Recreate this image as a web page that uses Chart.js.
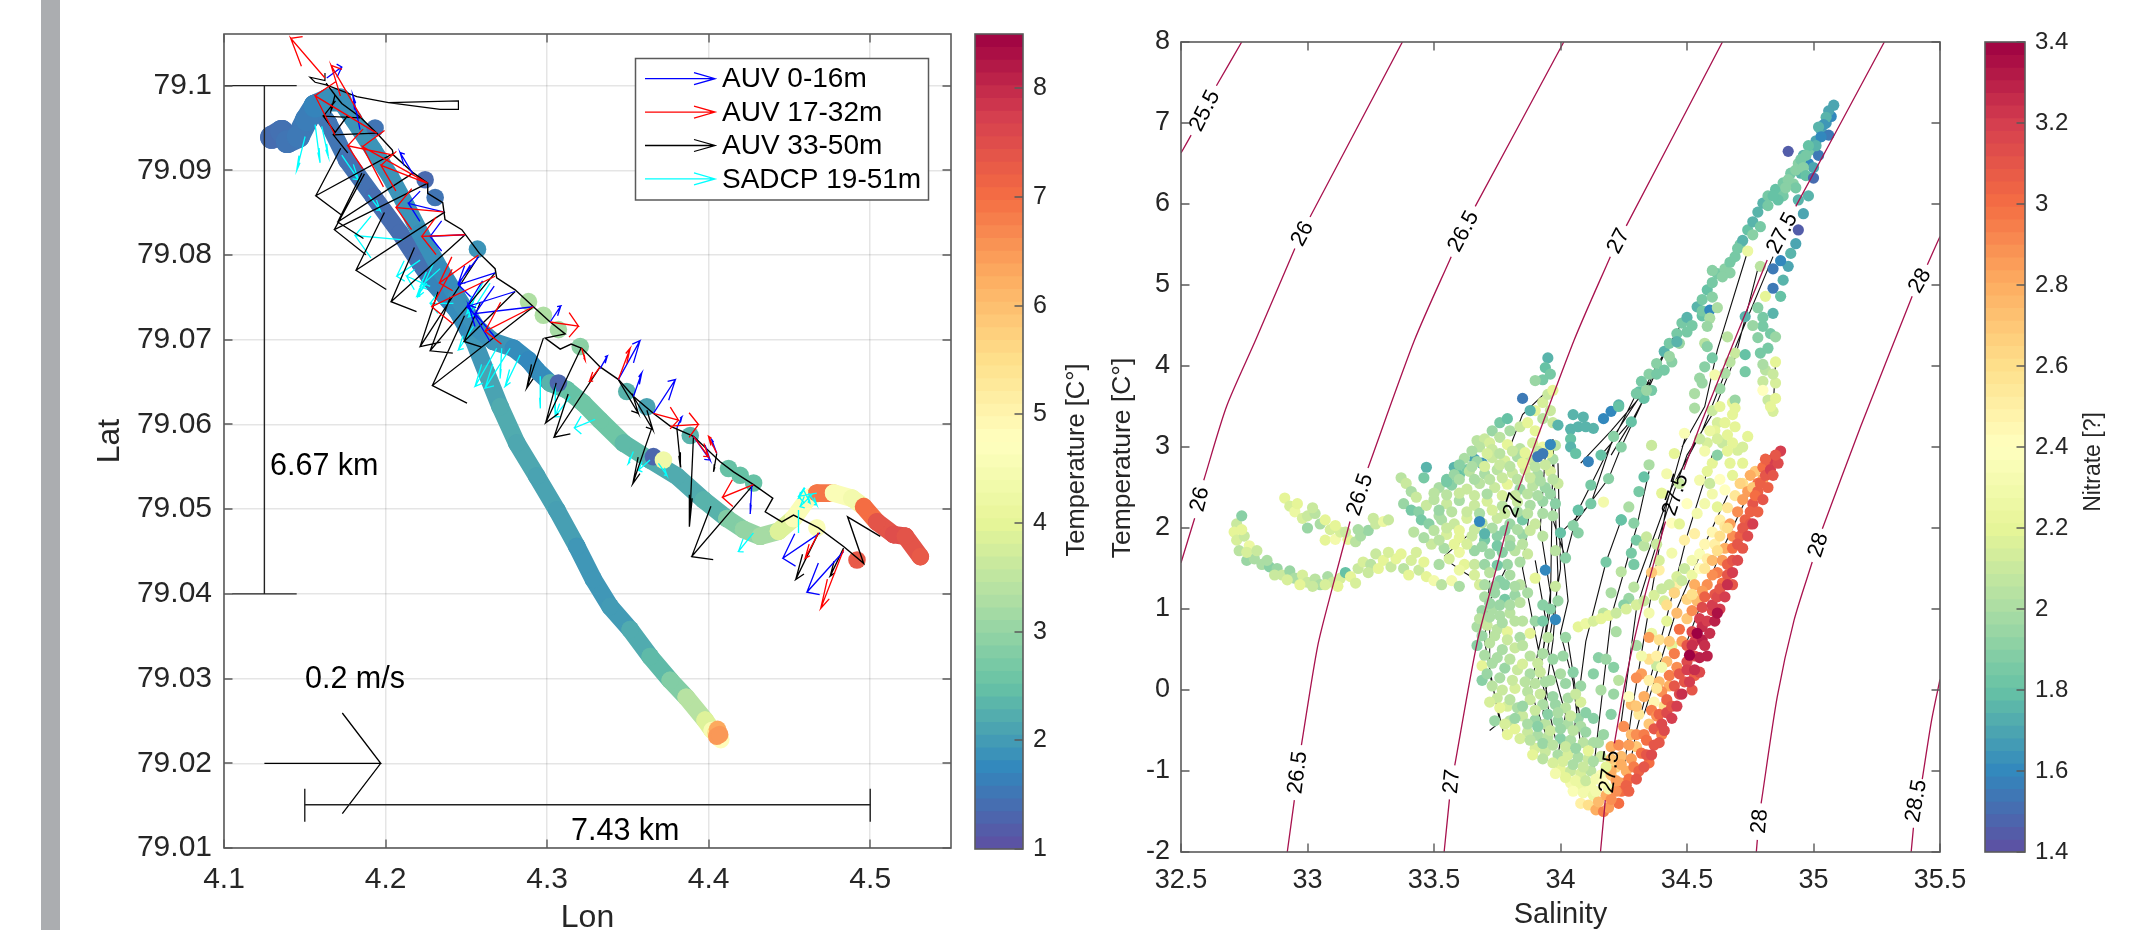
<!DOCTYPE html>
<html><head><meta charset="utf-8">
<script src="https://cdn.jsdelivr.net/npm/chart.js@4"></script>
<style>
html,body{margin:0;padding:0;background:#fff;width:2130px;height:930px;overflow:hidden}
canvas{position:absolute;left:0;top:0}
#strip{position:absolute;left:41px;top:0;width:19px;height:930px;background:#abadb0}
</style></head><body>
<div id="strip"></div>
<canvas id="c1" width="2130" height="1000"></canvas>
<canvas id="c2" width="2130" height="1000"></canvas>
<canvas id="c3" width="2130" height="1000"></canvas>
<canvas id="c4" width="2130" height="1000"></canvas>
<script>
// ---------- tick labels ----------
const lonTicks=[4.1,4.2,4.3,4.4,4.5], lonLabels=['4.1','4.2','4.3','4.4','4.5'];
const latTicks=[79.01,79.02,79.03,79.04,79.05,79.06,79.07,79.08,79.09,79.1];
const latLabels=['79.01','79.02','79.03','79.04','79.05','79.06','79.07','79.08','79.09','79.1'];
const tempBarTicks=[1,2,3,4,5,6,7,8];
const salTicks=[32.5,33,33.5,34,34.5,35,35.5], salLabels=['32.5','33','33.5','34','34.5','35','35.5'];
const thetaTicks=[-2,-1,0,1,2,3,4,5,6,7,8];
const nitrateTicks=[1.4,1.6,1.8,2,2.2,2.4,2.6,2.8,3,3.2,3.4];
const nitrateLabels=['1.4','1.6','1.8','2','2.2','2.4','2.6','2.8','3','3.2','3.4'];
const legendLabels=['AUV 0-16m','AUV 17-32m','AUV 33-50m','SADCP 19-51m'];

// ---------- left panel: ship track [lon,lat,temperature] ----------
const trackSouth=[[4.1574,79.0975,1.6],[4.1646,79.0956,1.5],[4.1760,79.0912,1.45],[4.1925,79.0869,1.4],[4.2090,79.0826,1.4],[4.2214,79.0790,1.45],[4.2296,79.0767,1.7],[4.2441,79.0735,1.8],[4.2544,79.0700,1.95],[4.2627,79.0660,2.1],[4.2709,79.0621,2.2],[4.2812,79.0578,2.15],[4.2936,79.0539,2.1],[4.3060,79.0499,2.05],[4.3184,79.0456,1.95],[4.3287,79.0417,1.95],[4.3390,79.0385,2.0],[4.3514,79.0358,2.2],[4.3638,79.0326,2.4],[4.3762,79.0298,2.8],[4.3861,79.0278,3.4],[4.3978,79.0251,3.9],[4.4022,79.0239,4.5],[4.4045,79.0236,5.5]];
const trackStart=[[4.1295,79.0939,1.4],[4.1357,79.0946,1.45],[4.1392,79.0934,1.5],[4.1460,79.0940,1.55],[4.1512,79.0960,1.6],[4.1564,79.0976,1.7],[4.1646,79.0983,1.85],[4.1718,79.0983,1.85]];
const trackEast=[[4.1718,79.0983,1.85],[4.1801,79.0960,1.9],[4.1925,79.0924,1.9],[4.2028,79.0893,1.9],[4.2131,79.0857,1.9],[4.2214,79.0826,1.85],[4.2338,79.0783,1.8],[4.2441,79.0751,1.85],[4.2565,79.0714,1.85],[4.2668,79.0698,1.9],[4.2792,79.0690,1.8],[4.2885,79.0676,1.75],[4.2936,79.0664,1.8],[4.3019,79.0649,2.3],[4.3122,79.0641,2.5],[4.3225,79.0625,2.6],[4.3328,79.0605,2.6],[4.3473,79.0578,2.4],[4.3638,79.0558,2.2],[4.3803,79.0539,2.2],[4.3968,79.0511,2.3],[4.4113,79.0489,2.8],[4.4216,79.0476,3.0],[4.4319,79.0468,3.2],[4.4432,79.0474,3.9],[4.4525,79.0489,4.6],[4.4608,79.0511,4.9],[4.4670,79.0519,6.9],[4.4773,79.0519,4.6],[4.4887,79.0513,4.4],[4.4959,79.0503,7.0],[4.5041,79.0485,7.4],[4.5145,79.0470,7.5],[4.5217,79.0468,7.4],[4.5310,79.0444,7.3]];
const trackBlobs=[[4.1935,79.0950,1.5],[4.2245,79.0889,1.35],[4.2307,79.0868,1.5],[4.2569,79.0807,1.9],[4.2885,79.0745,3.3],[4.2977,79.0729,3.3],[4.3070,79.0712,3.2],[4.3205,79.0692,2.9],[4.3070,79.0649,1.3],[4.3493,79.0639,2.3],[4.3617,79.0621,2.1],[4.3886,79.0587,2.3],[4.4123,79.0548,2.5],[4.4195,79.0540,2.5],[4.4278,79.0531,2.5],[4.4670,79.0478,4.6],[4.4918,79.0440,7.3],[4.3658,79.0562,1.3],[4.3720,79.0558,4.3],[4.4075,79.0228,4.8],[4.4055,79.0240,6.3],[4.4050,79.0232,6.5],[4.4068,79.0234,6.5]];
const auvPath=[[4.1632,79.1003],[4.1687,79.0989],[4.1729,79.0979],[4.1842,79.0963],[4.1945,79.0944],[4.2042,79.0924],[4.2049,79.0918],[4.2172,79.0897],[4.2261,79.0885],[4.2261,79.0873],[4.2354,79.0862],[4.2368,79.0842],[4.2472,79.0830],[4.2581,79.0802],[4.2678,79.0784],[4.2688,79.0773],[4.2802,79.0759],[4.2915,79.0739],[4.3019,79.0721],[4.3112,79.0707],[4.2988,79.0702],[4.3081,79.0689],[4.3149,79.0695],[4.3215,79.0690],[4.3328,79.0668],[4.3442,79.0653],[4.3535,79.0633],[4.3659,79.0613],[4.3762,79.0598],[4.3906,79.0586],[4.4071,79.0556],[4.4154,79.0544],[4.4278,79.0529],[4.4397,79.0513],[4.4350,79.0497],[4.4453,79.0485],[4.4525,79.0493],[4.4680,79.0478],[4.4835,79.0456],[4.4959,79.0436],[4.4860,79.0491],[4.5062,79.0468]];
const auvLoop=[[4.1625,79.1015],[4.1625,79.1006],[4.1532,79.1010],[4.1564,79.1004],[4.1632,79.1001],[4.1822,79.0987],[4.2018,79.0980],[4.2338,79.0972],[4.2451,79.0972],[4.2451,79.0982],[4.2018,79.0980]];
// current arrows [tailLon,tailLat,headLon,headLat]
const arrowsDeep=[[4.2049,79.0920,4.1568,79.0870],[4.2261,79.0885,4.1683,79.0830],[4.2172,79.0897,4.1704,79.0839],[4.2368,79.0851,4.1817,79.0782],[4.2492,79.0824,4.2034,79.0745],[4.2575,79.0798,4.2214,79.0692],[4.2678,79.0779,4.2276,79.0687],[4.2915,79.0739,4.2290,79.0646],[4.2802,79.0757,4.2486,79.0698],[4.2977,79.0702,4.2874,79.0643],[4.1945,79.0944,4.1677,79.0942],[4.1842,79.0962,4.1615,79.0964],[4.1687,79.0989,4.1663,79.0971],[4.3210,79.0690,4.2991,79.0602],[4.3328,79.0668,4.3043,79.0585],[4.3648,79.0596,4.3530,79.0530],[4.3441,79.0653,4.3565,79.0613],[4.3534,79.0633,4.3654,79.0594],[4.3803,79.0596,4.3827,79.0550],[4.3906,79.0586,4.3881,79.0480],[4.4050,79.0566,4.4030,79.0544],[4.4277,79.0529,4.3895,79.0444],[4.4680,79.0472,4.4539,79.0417],[4.4835,79.0454,4.4752,79.0421]];
const arrowsMid=[[4.1625,79.1009,4.1413,79.1056],[4.1945,79.0944,4.1564,79.0988],[4.1852,79.0962,4.1663,79.1024],[4.2049,79.0918,4.1766,79.0929],[4.2261,79.0885,4.1857,79.0928],[4.2255,79.0885,4.1972,79.0906],[4.2358,79.0851,4.2065,79.0856],[4.2492,79.0824,4.2224,79.0822],[4.2575,79.0800,4.2333,79.0767],[4.2678,79.0775,4.2286,79.0739],[4.2915,79.0739,4.2616,79.0710],[4.3019,79.0721,4.3194,79.0716],[4.3214,79.0690,4.3235,79.0676],[4.3328,79.0668,4.3262,79.0651],[4.3441,79.0653,4.3514,79.0690],[4.3658,79.0613,4.3813,79.0605],[4.3761,79.0598,4.3937,79.0600],[4.3906,79.0586,4.3999,79.0562],[4.4050,79.0566,4.3999,79.0586],[4.4277,79.0529,4.4085,79.0514],[4.4680,79.0472,4.4597,79.0442],[4.4835,79.0452,4.4694,79.0383]];
const arrowsShallow=[[4.1636,79.1009,4.1729,79.1022],[4.1842,79.0948,4.1797,79.0989],[4.2172,79.0895,4.2090,79.0921],[4.2358,79.0851,4.2142,79.0861],[4.2492,79.0824,4.2276,79.0822],[4.2575,79.0798,4.2451,79.0767],[4.2678,79.0779,4.2451,79.0765],[4.2802,79.0757,4.2503,79.0739],[4.2915,79.0739,4.2554,79.0731],[4.2647,79.0698,4.2513,79.0741],[4.3019,79.0721,4.3085,79.0740],[4.3328,79.0666,4.3373,79.0681],[4.3441,79.0653,4.3575,79.0699],[4.3534,79.0633,4.3586,79.0661],[4.3658,79.0613,4.3794,79.0653],[4.3803,79.0596,4.3834,79.0609],[4.3906,79.0586,4.4009,79.0558],[4.4050,79.0566,4.4019,79.0582],[4.4267,79.0529,4.4257,79.0495],[4.4690,79.0472,4.4459,79.0442],[4.4835,79.0450,4.4608,79.0402]];
const arrowsSadcp=[[4.1502,79.0940,4.1450,79.0900],[4.1564,79.0954,4.1595,79.0909],[4.1605,79.0952,4.1646,79.0916],[4.1729,79.0918,4.1832,79.0889],[4.1894,79.0871,4.1966,79.0853],[4.2110,79.0818,4.1811,79.0823],[4.2214,79.0794,4.2069,79.0775],[4.2296,79.0790,4.2203,79.0751],[4.2338,79.0784,4.2214,79.0763],[4.2255,79.0767,4.2193,79.0751],[4.2276,79.0763,4.2131,79.0775],[4.2420,79.0743,4.2276,79.0743],[4.2606,79.0769,4.2503,79.0731],[4.2647,79.0767,4.2513,79.0727],[4.2544,79.0716,4.2451,79.0688],[4.2688,79.0690,4.2554,79.0645],[4.2771,79.0690,4.2616,79.0643],[4.2719,79.0690,4.2709,79.0655],[4.2833,79.0682,4.2740,79.0645],[4.2957,79.0657,4.2957,79.0619],[4.3050,79.0647,4.3050,79.0609],[4.3142,79.0633,4.3049,79.0609],[4.3297,79.0606,4.3169,79.0596],[4.3534,79.0568,4.3503,79.0554],[4.3637,79.0558,4.3565,79.0546],[4.3689,79.0554,4.3741,79.0540],[4.4556,79.0499,4.4556,79.0472],[4.4277,79.0472,4.4184,79.0450],[4.4669,79.0519,4.4556,79.0515],[4.4649,79.0519,4.4566,79.0503],[4.4587,79.0523,4.4628,79.0507],[4.4618,79.0519,4.4669,79.0505],[4.4597,79.0525,4.4556,79.0513]];
const refArrow=[[4.125,79.02,4.197,79.02]];
const scaleBars=[[[4.125,79.1],[4.125,79.04]],[[4.1,79.1],[4.145,79.1]],[[4.105,79.04],[4.145,79.04]],[[4.15,79.0151],[4.5,79.0151]],[[4.15,79.0131],[4.15,79.017]],[[4.5,79.0131],[4.5,79.017]]];

// ---------- right panel: density contours [salinity,theta], null = label gap ----------
const sigma255=[[32.5,6.63],[32.54,6.85],null,[32.64,7.46],[32.74,8]];
const sigma26=[[32.5,1.57],[32.554,2.12],null,[32.59,2.59],[32.68,3.5],[32.795,4.32],[32.95,5.45],null,[33.01,5.84],[33.375,8]];
const sigma265=[[32.92,-2],[32.948,-1.36],null,[32.976,-0.68],[33.04,0.54],[33.098,1.26],[33.168,2.08],null,[33.239,2.74],[33.423,4.32],[33.568,5.35],null,[33.663,5.97],[34.013,8]];
const sigma27=[[33.54,-2],[33.561,-1.35],null,[33.582,-0.93],[33.67,0.58],[33.755,1.6],[33.794,2.08],null,[33.832,2.47],[34.054,4.32],[34.197,5.35],null,[34.26,5.73],[34.64,8]];
const sigma275=[[34.158,-2],[34.177,-1.36],null,[34.213,-0.66],[34.257,0.12],[34.329,1.11],[34.415,2.08],null,[34.487,2.72],[34.56,3.33],[34.817,5.31],null,[34.93,5.97],[35.28,8]];
const sigma28=[[34.774,-2],[34.778,-1.85],null,[34.793,-1.4],[34.857,-0.08],[34.923,0.86],[34.995,1.58],null,[35.035,1.99],[35.186,3.25],[35.39,4.86],null,[35.45,5.25],[35.5,5.6]];
const sigma285=[[35.386,-2],[35.395,-1.7],null,[35.43,-1.1],[35.467,-0.37],[35.5,0.13]];
// contour labels [salinity,theta,text,angle]
const sigmaLabels=[[32.595,7.15,'25.5',-63],[32.981,5.63,'26',-62],[32.575,2.354,'26',-76],[33.617,5.66,'26.5',-62],[33.208,2.41,'26.5',-71],[32.962,-1.02,'26.5',-83],[34.23,5.54,'27',-62],[33.815,2.28,'27',-72],[33.571,-1.13,'27',-84],[34.877,5.64,'27.5',-62],[34.455,2.41,'27.5',-72],[34.195,-1.01,'27.5',-82],[35.421,5.05,'28',-60],[35.02,1.79,'28',-72],[34.788,-1.62,'28',-85],[35.407,-1.37,'28.5',-80]];
// profile connections [salinity,theta], null = next profile
const castLines=[[34.3,3.66],[34.12,2.53],[34.07,2.22],[34.02,1.63],[33.96,2.2],null,[34.33,3.6],[34.24,3.0],[34.19,2.61],[34.05,2.03],null,[34.35,3.8],[34.21,3.13],[34.12,2.3],[34.0,1.94],null,[34.38,4.03],[34.33,3.6],[34.28,3.31],[34.2,2.9],null,[34.74,5.42],[34.62,4.2],[34.57,3.5],[34.48,3.0],null,[34.84,5.35],[34.7,4.3],[34.56,3.2],[34.44,2.5],[34.3,1.3],null,[34.78,5.2],[34.69,4.1],[34.6,3.4],[34.5,2.9],[34.42,2.2],[34.3,1.0],[34.24,-0.4],null,[34.24,2.1],[34.18,1.58],[34.1,0.6],[34.05,-0.6],null,[34.35,2.7],[34.3,2.0],[34.2,0.9],[34.13,-1.0],null,[34.5,3.2],[34.42,2.3],[34.36,1.2],[34.28,-0.3],[34.25,-1.0],null,[34.6,2.9],[34.5,1.9],[34.42,0.9],[34.3,-0.5],[34.27,-1.0],null,[34.66,2.4],[34.57,1.8],[34.46,1.0],[34.33,-0.3],null,[34.74,2.4],[34.62,1.6],[34.5,0.6],null,[33.97,3.1],[33.98,2.2],[33.99,1.4],[33.97,0.6],[33.93,-0.3],null,[33.94,2.9],[33.92,2.0],[33.96,1.2],[33.92,0.2],[33.98,-0.6],null,[33.88,2.3],[33.85,1.5],[33.9,0.7],[33.95,-0.1],null,[33.8,1.6],[33.72,1.1],[33.72,0.2],[33.78,-0.6],null,[33.72,1.35],[33.7,0.6],[33.76,-0.4],[33.72,-0.5],null,[33.99,2.8],[34.0,1.5],[33.95,0.5],[34.02,-0.3],[33.99,-0.8],null,[33.9,1.6],[33.94,0.9],[33.88,0.0],[33.96,-0.7],null,[34.0,2.0],[34.03,1.1],[34.0,0.7],[34.05,0.1],[34.08,-0.7],null,[33.95,3.7],[33.85,3.4],[33.8,3.0],null,[33.97,3.0],[33.96,1.0],[33.91,0.1],null,[34.03,0.6],[34.09,-0.6],null,[34.85,4.05],[34.84,3.44],null,[34.48,4.53],[34.38,4.0],[34.31,3.6],[34.2,3.2],[34.08,2.8],null,[34.43,4.28],[34.3,3.4],[34.16,2.9],null,[33.7,1.3],[33.62,1.45],[33.55,1.6],null,[33.63,1.9],[33.54,1.65]];

// ---------- right panel: water samples [salinity,theta,nitrate] ----------
const westLowArm=[[32.72,2.05,2.1],[32.74,2.15,1.9],[32.71,1.95,2.2],[32.72,1.85,2.15],[32.75,1.9,2.1],[32.77,1.78,2.25],[32.73,1.72,2.05],[32.76,1.6,1.95],[32.79,1.62,2.0],[32.82,1.55,2.0],[32.85,1.52,1.9],[32.88,1.5,1.95],[32.9,1.42,2.1],[32.93,1.47,1.95],[32.95,1.38,2.0],[32.98,1.42,2.15],[33.0,1.33,2.1],[33.03,1.37,2.05],[33.05,1.3,2.0],[33.08,1.4,2.0],[33.1,1.33,2.1],[33.13,1.38,2.15],[33.15,1.45,1.8],[33.17,1.4,2.2],[33.2,1.5,2.1],[33.22,1.58,2.15],[33.25,1.55,2.05],[33.27,1.68,2.1],[33.3,1.6,2.2],[33.33,1.52,2.1],[33.35,1.62,2.2],[33.38,1.5,2.05],[33.41,1.6,2.15],[33.44,1.48,2.1],[33.47,1.4,2.2],[33.5,1.35,2.3],[33.53,1.3,2.05],[33.57,1.35,2.3],[33.6,1.28,2.0],[33.52,1.55,2.0],[32.74,1.98,2.2],[32.76,1.7,2.15],[32.8,1.72,2.1],[32.84,1.6,2.0],[32.87,1.42,2.1],[32.92,1.36,2.15],[32.97,1.3,2.2],[33.02,1.28,2.1],[33.07,1.3,2.15],[33.12,1.28,2.2],[33.19,1.32,2.15],[33.24,1.45,2.1],[33.28,1.5,2.2],[33.32,1.7,2.15],[33.37,1.68,2.2],[33.43,1.7,2.15],[33.46,1.58,2.2],[33.4,1.42,2.2]];
const westUpArm=[[32.91,2.37,2.2],[32.93,2.27,2.15],[32.95,2.2,2.25],[32.98,2.12,2.15],[33.0,2.15,2.1],[33.03,2.18,2.05],[33.0,2.0,1.95],[33.05,2.05,2.0],[33.07,1.85,2.2],[33.09,1.98,2.15],[33.11,1.86,2.3],[33.13,1.95,2.15],[33.16,1.86,2.2],[33.19,1.83,2.05],[33.21,1.9,2.0],[33.24,1.97,1.95],[33.27,2.05,2.1],[33.3,2.08,2.25],[33.32,2.1,2.1],[32.96,2.3,2.2],[33.02,2.25,2.1],[33.07,2.1,2.2],[33.11,2.03,2.2],[33.15,1.95,2.1],[33.2,1.98,2.0],[33.26,2.12,2.1]];
const cloudEdge=[[33.37,2.62,2.05],[33.39,2.55,2.1],[33.41,2.45,2.0],[33.43,2.38,2.1],[33.38,2.3,1.95],[33.41,2.22,1.85],[33.44,2.2,1.9],[33.47,2.28,2.1],[33.5,2.35,2.05],[33.45,2.1,1.85],[33.48,2.05,1.9],[33.52,2.15,2.0],[33.42,1.95,2.05],[33.47,2.75,1.75],[33.46,2.62,1.85],[33.58,2.75,1.75],[33.6,2.65,1.8],[33.55,2.6,1.85],[33.66,2.85,1.7],[33.69,2.8,1.65],[33.63,2.72,1.85],[33.67,3.08,2.05],[33.7,3.1,2.1],[33.73,3.2,1.95],[33.76,3.3,1.85],[33.79,3.35,1.8],[33.72,3.05,2.15],[33.76,3.12,2.05],[33.8,3.2,2.0],[33.84,3.25,2.1],[33.87,3.3,2.2],[33.9,3.45,2.2],[33.93,3.55,2.15],[33.95,3.65,2.1],[33.97,3.7,2.2],[33.93,3.35,2.05],[33.97,3.3,2.1],[33.9,3.2,2.2],[33.96,3.45,2.1],[33.95,4.1,1.75],[33.94,3.98,1.8],[33.96,3.9,1.85],[33.93,3.83,1.85],[33.9,3.82,1.95],[33.85,3.6,1.55],[33.88,3.45,1.75]];
const cloudBody=[[33.68,3.0,2.05],[33.73,2.97,2.1],[33.79,3.03,2.2],[33.84,2.98,2.05],[33.89,3.05,2.15],[33.93,3.0,2.25],[33.98,3.02,2.05],[33.62,2.86,2.0],[33.67,2.82,1.95],[33.73,2.87,2.1],[33.78,2.83,2.15],[33.83,2.88,2.0],[33.88,2.84,2.1],[33.97,2.85,2.0],[33.58,2.66,1.95],[33.64,2.7,2.05],[33.7,2.67,2.0],[33.75,2.72,2.05],[33.81,2.68,2.1],[33.86,2.72,2.15],[33.91,2.66,2.0],[33.96,2.7,2.15],[33.52,2.5,2.0],[33.57,2.53,1.9],[33.63,2.48,2.1],[33.68,2.55,2.05],[33.74,2.5,2.1],[33.79,2.54,2.2],[33.84,2.48,1.95],[33.89,2.52,2.05],[33.94,2.5,1.95],[33.99,2.55,2.1],[33.55,2.3,2.1],[33.6,2.34,2.0],[33.66,2.28,2.1],[33.71,2.33,2.15],[33.77,2.27,2.05],[33.83,2.32,2.1],[33.88,2.28,2.0],[33.93,2.33,1.95],[33.98,2.3,1.9],[33.53,2.1,2.0],[33.58,2.05,2.1],[33.63,2.12,2.15],[33.69,2.06,2.05],[33.75,2.12,2.1],[33.8,2.05,1.95],[33.85,2.1,1.85],[33.9,2.05,2.1],[33.97,2.15,2.0],[33.55,1.92,2.15],[33.6,1.88,2.2],[33.65,1.9,2.1],[33.7,1.85,1.85],[33.75,1.9,1.9],[33.8,1.85,2.0],[33.85,1.92,1.95],[33.93,1.9,2.05],[33.49,1.8,2.1],[33.54,1.75,2.0],[33.6,1.7,2.25],[33.66,1.72,1.95],[33.72,1.68,1.95],[33.77,1.7,1.9],[33.82,1.72,2.05],[33.87,1.68,2.1],[33.98,1.72,2.05]];
const cloudFill=[[33.65,2.95,2.0],[33.71,2.92,2.15],[33.76,2.92,2.05],[33.81,2.95,2.1],[33.86,2.93,2.2],[33.91,2.95,2.1],[33.95,2.93,2.2],[33.6,2.78,1.9],[33.65,2.76,2.0],[33.7,2.76,2.15],[33.76,2.78,2.1],[33.8,2.76,2.05],[33.85,2.8,2.2],[33.9,2.76,2.05],[33.94,2.78,2.1],[33.55,2.57,1.85],[33.6,2.6,2.0],[33.66,2.6,2.0],[33.72,2.6,2.05],[33.77,2.62,2.1],[33.83,2.6,2.05],[33.88,2.62,2.1],[33.92,2.58,2.0],[33.97,2.6,2.05],[33.5,2.43,2.05],[33.55,2.41,2.05],[33.6,2.43,2.1],[33.66,2.4,2.1],[33.71,2.42,2.0],[33.77,2.4,2.15],[33.82,2.4,2.1],[33.87,2.42,2.05],[33.91,2.4,2.0],[33.96,2.42,1.95],[33.52,2.22,1.95],[33.57,2.2,2.05],[33.63,2.2,2.1],[33.68,2.18,2.0],[33.73,2.22,2.15],[33.78,2.18,2.1],[33.83,2.2,2.0],[33.87,2.18,2.05],[33.93,2.18,2.0],[33.5,1.97,2.05],[33.55,2.0,2.1],[33.6,1.97,2.2],[33.66,1.98,2.1],[33.73,2.0,2.0],[33.78,1.97,1.9],[33.83,1.98,2.0],[33.88,1.97,2.1],[33.46,1.88,2.0],[33.52,1.85,2.05],[33.58,1.8,2.2],[33.63,1.8,2.15],[33.69,1.77,1.95],[33.75,1.78,1.85],[33.8,1.78,1.95],[33.85,1.8,2.05],[33.62,1.55,2.2],[33.66,1.55,2.1],[33.7,1.55,1.95],[33.79,1.55,1.95],[33.84,1.58,2.0],[33.56,1.62,2.15],[33.6,1.48,2.25],[33.66,1.42,2.15],[33.68,2.08,1.6],[33.7,1.93,1.75],[33.91,2.88,1.55],[33.93,2.92,1.55],[33.96,3.03,1.6],[33.94,1.48,1.6],[33.75,1.54,1.85]];
const tealBranch=[[33.99,3.27,1.75],[34.05,3.4,1.75],[34.09,3.37,1.75],[34.13,3.23,1.75],[34.04,3.22,1.75],[34.07,3.25,1.75],[34.1,3.25,1.75],[34.17,3.35,1.6],[34.2,3.44,1.6],[34.23,3.52,1.75],[34.04,3.1,1.8],[34.04,3.0,1.75],[34.06,2.92,1.8],[34.11,2.82,1.58],[34.16,2.9,1.8],[34.31,3.68,1.8],[34.33,3.6,1.8],[34.28,3.31,1.8],[34.24,3.0,1.9],[34.21,3.13,1.9],[34.19,2.61,1.9],[34.12,2.53,1.85],[34.07,2.22,1.8],[34.12,2.3,1.85],[34.17,2.32,2.3],[34.05,2.03,1.9],[34.0,1.94,1.8],[34.07,1.94,1.9],[34.02,1.63,1.9],[34.24,2.1,1.8],[34.18,1.58,1.85]];
const midColumn=[[34.36,3.02,2.1],[34.35,2.78,2.0],[34.33,2.63,1.8],[34.31,2.45,1.85],[34.27,2.26,2.0],[34.24,2.1,1.8],[34.29,2.06,1.9],[34.3,1.85,1.85],[34.28,1.69,1.85],[34.33,1.78,2.05],[34.29,1.55,1.85],[34.24,1.46,2.05],[34.29,1.27,2.05],[34.27,1.13,1.95],[34.34,1.89,2.1],[34.2,1.2,2.0],[34.17,.95,2.05],[34.25,1.05,1.9],[34.22,.72,2.0],[34.15,.4,1.9],[34.18,.38,1.95],[34.21,.28,1.9],[34.13,.2,1.9],[34.16,.0,2.0],[34.21,-.05,1.95],[34.2,-.3,1.9],[34.17,-.55,1.95],[34.13,-.35,1.9],[34.23,.12,2.05],[34.3,.55,2.0]];
const paleCluster=[[34.42,2.67,2.3],[34.45,2.92,2.2],[34.49,3.17,2.35],[34.4,2.43,2.2],[34.44,2.06,2.4],[34.44,1.69,2.3],[34.39,1.48,2.5],[34.53,1.93,2.5],[34.54,2.18,2.3],[34.55,2.59,2.3],[34.6,2.8,2.2],[34.58,3.05,2.15],[34.69,3.25,2.2],[34.74,3.13,2.2],[34.7,2.96,2.15],[34.65,2.47,2.4],[34.62,2.26,2.2],[34.64,3.05,2.1],[34.62,3.3,2.15],[34.66,3.15,2.2],[34.6,3.45,2.1],[34.63,3.5,2.2],[34.68,3.4,2.2],[34.57,2.95,2.3],[34.62,2.9,1.9],[34.67,2.8,2.2],[34.72,2.8,2.2],[34.59,2.55,2.1],[34.57,2.3,2.3],[34.63,2.6,2.4],[34.68,2.65,2.2],[34.47,2.55,2.1],[34.5,2.3,2.4],[34.47,2.05,2.2],[34.49,1.85,2.5],[34.38,1.8,2.1],[34.41,1.1,2.15],[34.35,.95,2.3],[34.36,.7,2.25],[34.39,1.6,2.15],[34.46,1.3,2.5],[34.42,.85,2.2],[34.44,.55,2.2],[34.38,.3,2.1],[34.65,3.3,2.2],[34.68,3.55,2.2],[34.61,3.2,2.2],[34.59,3.2,2.25],[34.62,3.1,2.15],[34.68,3.05,2.2],[34.72,3.0,2.15],[34.55,3.1,2.1],[34.58,2.7,2.2],[34.66,2.95,2.2],[34.6,2.42,2.3]];
const yellowBand=[[34.07,.78,2.2],[34.1,.82,2.25],[34.13,.85,2.15],[34.16,.88,2.2],[34.19,.92,2.2],[34.22,.95,2.1],[34.26,1.0,2.15],[34.3,1.05,2.15],[34.33,1.1,2.1],[34.37,1.17,2.15],[34.4,1.25,2.1],[34.43,1.3,2.1],[34.46,1.4,2.15],[34.49,1.5,2.1],[34.52,1.6,2.3],[34.55,1.68,2.35],[34.57,1.8,2.45],[34.6,1.95,2.45],[34.63,2.1,2.5],[34.66,2.25,2.55],[34.69,2.4,2.55],[34.72,2.55,2.6],[34.45,1.2,2.05],[34.48,1.35,2.1],[34.52,1.42,2.25],[34.55,1.5,2.4],[34.58,1.62,2.5],[34.61,1.8,2.5],[34.65,2.02,2.55]];
const lowerColumn=[[33.68,1.3,2.15],[33.72,1.45,2.05],[33.76,1.35,1.9],[33.8,1.42,2.0],[33.84,1.3,2.05],[33.9,1.38,2.2],[33.98,1.28,2.1],[33.7,1.15,2.0],[33.74,1.2,1.95],[33.78,1.12,1.85],[33.82,1.17,1.95],[33.87,1.2,2.0],[33.93,1.05,1.9],[33.96,1.0,1.9],[33.99,1.1,1.95],[33.69,.98,1.95],[33.73,1.0,2.0],[33.76,.92,2.0],[33.8,.95,2.05],[33.85,.85,2.05],[33.9,.85,1.95],[33.93,.85,1.85],[33.98,.87,1.6],[33.67,.78,2.0],[33.71,.8,2.1],[33.75,.75,2.05],[33.79,.72,2.2],[33.84,.65,2.0],[33.88,.7,2.2],[33.95,.65,2.05],[34.02,.65,1.95],[33.67,.55,1.9],[33.72,.58,2.05],[33.77,.5,2.0],[33.82,.52,2.1],[33.88,.42,2.05],[33.93,.45,2.0],[33.97,.38,1.95],[34.01,.42,1.95],[33.69,.3,2.2],[33.73,.33,2.0],[33.78,.27,1.95],[33.83,.25,2.1],[33.88,.2,2.0],[33.92,.22,2.1],[33.96,.12,2.0],[34.0,.2,2.0],[34.05,.22,1.9],[33.69,.12,1.9],[33.73,.05,2.05],[33.77,.0,2.1],[33.82,.02,2.15],[33.87,-.02,2.05],[33.92,-.05,2.1],[33.97,-.08,1.95],[34.03,-.1,2.0],[34.08,.05,1.95],[34.08,-.15,2.15]];
const lowerFill=[[33.7,1.3,2.0],[33.74,1.28,1.95],[33.78,1.3,1.9],[33.82,1.28,2.0],[33.72,1.07,1.95],[33.76,1.05,1.95],[33.8,1.05,2.0],[33.84,1.08,2.05],[33.68,.88,2.05],[33.72,.9,2.0],[33.77,.83,2.0],[33.82,.85,2.05],[33.69,.67,1.95],[33.74,.67,2.05],[33.79,.62,2.1],[33.85,.55,2.05],[33.7,.43,2.0],[33.75,.4,2.0],[33.8,.38,2.05],[33.85,.32,2.15],[33.91,.33,2.1],[33.71,.2,1.95],[33.76,.15,2.0],[33.81,.12,2.1],[33.86,.1,2.05],[33.9,.08,2.05],[33.94,.1,2.0],[34.02,.08,1.95],[33.75,-.1,2.1],[33.79,-.2,2.15],[33.83,-.22,2.0],[33.88,-.12,2.1],[33.93,-.18,2.0],[33.98,-.18,1.95],[34.02,-.22,2.05],[34.06,-.05,2.1],[34.07,-.35,1.95],[33.8,-.38,2.05],[33.85,-.32,2.1],[33.9,-.37,1.95],[33.94,-.42,2.05],[33.99,-.38,1.95],[34.03,-.42,2.0],[34.08,-.45,2.0],[33.82,-.48,2.2],[33.87,-.52,2.1],[33.91,-.56,2.0],[33.95,-.58,2.05],[34.0,-.6,1.9],[34.04,-.62,2.0],[34.09,-.65,2.05],[34.13,-.65,2.0],[33.9,-.72,2.15],[33.94,-.76,2.1],[33.99,-.8,2.0],[34.03,-.8,2.15],[34.07,-.83,2.0],[34.11,-.85,2.1],[34.0,-.98,2.2],[34.04,-1.0,2.1],[34.08,-1.03,2.15],[34.12,-1.0,2.05],[34.04,-1.15,2.3],[34.08,-1.2,2.25],[34.12,-1.2,2.3],[34.16,-1.05,2.35],[34.16,-.82,2.1],[34.15,-.65,2.0]];
const lowerSlope=[[33.72,-.15,2.15],[33.76,-.22,2.2],[33.8,-.12,2.05],[33.85,-.2,1.95],[33.9,-.25,2.1],[33.95,-.3,1.9],[33.99,-.28,2.0],[34.04,-.32,2.1],[34.1,-.28,1.9],[33.74,-.38,1.95],[33.78,-.42,2.15],[33.82,-.35,1.95],[33.87,-.42,2.0],[33.91,-.45,1.9],[33.96,-.5,2.1],[34.0,-.48,1.95],[34.05,-.5,2.05],[34.1,-.52,1.95],[33.79,-.55,2.2],[33.84,-.6,2.15],[33.88,-.62,2.05],[33.93,-.66,1.95],[33.97,-.68,2.05],[34.02,-.7,2.1],[34.06,-.72,1.95],[34.11,-.75,2.2],[33.89,-.8,2.2],[33.93,-.85,2.05],[33.97,-.9,2.15],[34.01,-.88,2.15],[34.05,-.92,2.0],[34.09,-.95,2.1],[34.13,-.88,2.0],[33.98,-1.03,2.3],[34.02,-1.08,2.2],[34.06,-1.12,2.25],[34.1,-1.12,2.1],[34.14,-1.1,2.3],[34.05,-1.25,2.35],[34.09,-1.27,2.3],[34.13,-1.3,2.25],[34.08,-1.4,2.5]];
const vertexCore=[[34.11,-1.42,2.6],[34.14,-1.48,2.8],[34.17,-1.5,2.95],[34.15,-1.38,2.75],[34.19,-1.45,2.85],[34.18,-1.3,2.8],[34.2,-1.35,2.9],[34.14,-1.25,2.3],[34.17,-1.15,2.4],[34.19,-1.22,2.3],[34.22,-1.25,2.9],[34.2,-1.0,2.8],[34.22,-1.12,2.85],[34.18,-.95,2.2]];
const northArm=[[34.23,3.5,1.8],[34.3,3.66,1.85],[34.32,3.81,1.85],[34.35,3.9,1.9],[34.38,4.03,1.9],[34.41,4.18,1.75],[34.43,4.28,1.85],[34.46,4.4,1.85],[34.48,4.53,1.85],[34.5,4.6,1.75],[34.54,4.73,1.75],[34.56,4.82,1.85],[34.58,4.94,1.8],[34.6,5.03,1.85],[34.62,5.14,1.85],[34.65,5.2,1.9],[34.67,5.28,1.85],[34.69,5.35,1.85],[34.71,5.5,1.85],[34.74,5.68,1.8],[34.76,5.78,1.75],[34.8,6.01,1.75],[34.82,6.1,1.85],[34.85,6.18,1.8],[34.88,6.26,1.85],[34.91,6.38,1.85],[34.94,6.5,1.9],[34.96,6.6,1.75],[34.99,6.67,1.85],[35.01,6.78,1.7],[35.03,6.91,1.7],[35.05,7.0,1.65],[35.07,7.08,1.6],[35.08,7.22,1.7],[35.06,6.85,1.55],[35.02,6.6,1.55],[34.98,6.5,1.6],[34.95,6.38,1.75],[35.0,6.45,1.7],[34.92,6.25,1.9],[34.88,6.1,1.85],[34.94,6.05,1.75],[34.9,6.65,1.45],[34.86,6.05,1.8],[34.6,4.85,1.9],[34.56,4.62,1.8],[34.52,4.5,1.85],[34.47,4.28,1.95],[34.44,4.05,1.9],[34.41,3.95,1.85],[34.36,3.7,1.85]];
const northFill=[[35.06,7.15,1.7],[35.05,7.07,1.75],[35.04,6.98,1.65],[35.02,6.95,1.75],[35.03,6.83,1.6],[35.01,6.72,1.75],[34.98,6.72,1.8],[34.97,6.6,1.85],[34.95,6.55,1.85],[34.93,6.42,1.9],[34.96,6.45,1.9],[34.97,6.35,1.8],[34.9,6.3,1.9],[34.93,6.2,1.85],[34.89,6.2,1.9],[34.84,6.1,1.8],[34.82,5.98,1.85],[34.78,5.9,1.75],[34.79,5.72,1.85],[34.76,5.62,1.9],[34.72,5.55,1.75],[34.7,5.45,1.85],[34.67,5.15,1.9],[34.64,5.1,1.9],[34.6,5.18,1.9],[34.56,4.68,1.85],[34.5,4.42,1.85],[34.46,4.3,1.75],[34.43,4.12,1.95],[34.38,3.9,1.85],[34.34,3.7,1.95]];
const eastArm=[[35.0,6.32,1.5],[34.98,6.1,1.75],[34.96,5.88,1.7],[34.94,5.68,1.45],[34.93,5.51,1.7],[34.91,5.39,1.75],[34.9,5.23,1.7],[34.84,5.2,1.55],[34.87,5.3,1.6],[34.88,5.06,1.75],[34.84,4.96,1.55],[34.81,4.86,2.2],[34.87,4.86,1.8],[34.84,4.65,1.75],[34.78,4.72,1.9],[34.8,4.49,1.85],[34.76,4.5,1.95],[34.83,4.4,1.85],[34.85,4.36,1.95],[34.79,4.16,1.85],[34.85,4.05,2.2],[34.81,3.95,2.05],[34.8,3.81,2.1],[34.85,3.79,2.15],[34.82,3.58,2.1],[34.84,3.44,2.15],[34.8,3.7,2.4],[34.85,3.6,2.2],[34.8,4.6,1.85],[34.78,4.35,1.9],[34.82,4.22,1.85],[34.8,4.02,2.0],[34.84,3.9,2.1],[34.83,3.5,2.2]];
const midArm=[[34.59,4.69,1.6],[34.59,4.59,2.0],[34.58,4.49,1.95],[34.57,4.28,2.05],[34.58,4.24,1.9],[34.6,4.1,1.85],[34.57,3.99,1.9],[34.55,3.85,1.95],[34.56,3.79,1.95],[34.53,3.66,2.0],[34.53,3.48,2.0],[34.66,4.36,2.05],[34.69,4.16,2.1],[34.67,4.05,2.05],[34.65,3.91,2.0],[34.63,3.72,1.95],[34.61,3.89,2.3],[34.73,4.14,1.8],[34.73,3.93,1.85],[34.69,3.58,1.95],[34.69,3.48,2.2],[34.74,5.42,2.25],[34.79,5.23,2.05],[34.73,4.61,1.75],[34.62,4.72,2.0]];
const orangeBand=[[34.2,-.7,2.8],[34.24,-.82,2.75],[34.26,-1.0,2.8],[34.28,-.55,2.75],[34.3,-.7,2.7],[34.25,-.45,2.9],[34.28,-.18,2.75],[34.31,-.3,2.55],[34.35,-.42,2.7],[34.33,-.08,2.8],[34.37,-.15,2.45],[34.41,-.2,2.6],[34.32,.2,2.85],[34.35,.12,2.5],[34.39,.1,2.75],[34.43,.05,2.8],[34.35,.38,2.6],[34.38,.42,2.5],[34.42,.35,2.75],[34.46,.28,2.9],[34.3,.15,2.9],[34.35,.65,2.85],[34.39,.62,2.6],[34.43,.6,2.7],[34.48,.6,2.85],[34.36,1.45,2.7],[34.42,1.05,2.6],[34.46,.95,2.75],[34.5,.88,2.7],[34.45,1.2,2.65],[34.5,1.12,2.65],[34.54,1.1,2.75],[34.53,1.3,2.8],[34.58,1.3,2.9],[34.62,1.45,2.95],[34.6,1.6,2.75],[34.65,1.75,2.8],[34.67,2.05,2.85],[34.7,2.2,2.9],[34.71,2.55,2.65],[34.74,2.45,2.85],[34.77,2.7,2.7],[34.75,2.65,2.8],[34.8,2.6,2.85],[34.78,2.55,3.0],[34.2,-.85,2.7],[34.24,-1.15,2.85],[34.22,-.95,2.65]];
const orangeFill=[[34.23,-.68,2.9],[34.27,-.68,2.85],[34.3,-.55,2.9],[34.33,-.55,2.95],[34.36,-.25,2.95],[34.38,-.32,2.9],[34.4,-.02,2.9],[34.43,.18,2.95],[34.45,.45,2.95],[34.47,.75,3.0],[34.52,.98,2.9],[34.56,1.22,2.85],[34.6,1.42,2.9],[34.64,1.6,2.85],[34.68,1.9,2.9],[34.63,1.9,2.6],[34.72,2.35,2.85],[34.76,2.5,2.7],[34.52,1.18,2.6],[34.57,1.5,2.55],[34.62,1.72,2.6],[34.66,2.0,2.6],[34.23,-1.2,2.85],[34.2,-1.05,2.7],[34.24,-.92,2.8],[34.28,-.85,2.85],[34.3,-.2,2.7],[34.38,.02,2.55],[34.32,.42,2.3],[34.27,-.08,2.4],[34.4,.28,2.3]];
const redInner=[[34.24,-1.25,3.0],[34.27,-1.1,3.0],[34.29,-.95,2.95],[34.32,-.78,3.0],[34.34,-.62,3.0],[34.37,-.48,3.1],[34.39,-.3,3.05],[34.42,-.12,3.05],[34.45,.05,3.1],[34.47,.2,3.1],[34.5,.35,3.15],[34.5,.55,3.1],[34.52,.72,3.15],[34.55,.88,3.2],[34.56,1.02,3.15],[34.57,1.15,3.05],[34.61,1.18,3.1],[34.64,1.32,3.0],[34.66,1.55,3.05],[34.68,1.75,3.0],[34.71,1.9,3.05],[34.73,2.1,3.05],[34.76,2.3,3.1],[34.78,2.45,3.05],[34.8,2.75,3.0],[34.83,2.8,3.05],[34.75,2.05,3.1],[34.68,1.3,3.1],[34.6,.98,3.15],[34.53,.18,3.05],[34.4,-.55,2.95],[34.35,-.9,3.0]];
const redFill=[[34.26,-1.18,3.05],[34.31,-1.0,3.05],[34.34,-.8,3.1],[34.37,-.68,3.1],[34.4,-.42,3.15],[34.42,-.28,3.15],[34.44,-.2,3.1],[34.47,-.05,3.15],[34.49,.1,3.1],[34.5,.25,3.2],[34.53,.42,3.15],[34.53,.6,3.2],[34.56,.62,3.3],[34.56,.78,3.25],[34.58,.85,3.2],[34.6,1.05,3.2],[34.62,1.15,3.15],[34.63,1.25,3.1],[34.66,1.42,3.1],[34.68,1.6,3.1],[34.7,1.8,3.1],[34.72,2.0,3.1],[34.75,2.2,3.05],[34.77,2.4,3.0],[34.79,2.55,3.05],[34.81,2.65,3.1],[34.83,2.72,3.2],[34.84,2.85,3.2],[34.52,.0,3.1],[34.55,.22,3.15]];
const redBand=[[34.23,-1.40,3.0],[34.27,-1.25,3.05],[34.30,-1.10,3.1],[34.33,-.95,3.1],[34.36,-.8,3.15],[34.39,-.65,3.1],[34.41,-.5,3.15],[34.44,-.35,3.2],[34.46,-.2,3.2],[34.48,-.05,3.25],[34.51,.1,3.2],[34.53,.25,3.25],[34.55,.4,3.3],[34.57,.55,3.25],[34.59,.7,3.25],[34.61,.85,3.3],[34.63,1.0,3.2],[34.65,1.15,3.2],[34.66,1.3,3.25],[34.68,1.45,3.2],[34.7,1.6,3.15],[34.72,1.75,3.1],[34.74,1.9,3.15],[34.76,2.05,3.2],[34.78,2.2,3.05],[34.8,2.35,3.1],[34.82,2.5,3.05],[34.84,2.65,3.1],[34.86,2.8,3.15],[34.87,2.95,3.2],[34.85,2.9,3.1],[34.81,2.85,3.05],[34.52,.55,3.25],[34.51,.43,3.4],[34.54,.7,3.4],[34.58,.42,3.3],[34.62,.95,3.35]];
const sampleGroups=[westLowArm,westUpArm,cloudEdge,cloudBody,cloudFill,tealBranch,lowerColumn,lowerFill,midColumn,paleCluster,yellowBand,lowerSlope,northArm,northFill,eastArm,midArm,orangeBand,orangeFill,redInner,redFill,redBand,vertexCore];

// ---------- colormap ----------
const spectralStops=['#5e4fa2','#3288bd','#66c2a5','#abdda4','#e6f598','#ffffbf','#fee08b','#fdae61','#f46d43','#d53e4f','#9e0142'];
function hexRgb(h){return [1,3,5].map(i=>parseInt(h.substr(i,2),16));}
function spectral(t){t=Math.max(0,Math.min(1,t))*10;const i=Math.min(9,Math.floor(t)),f=t-i;
  const a=hexRgb(spectralStops[i]),b=hexRgb(spectralStops[i+1]);
  return 'rgb('+a.map((v,k)=>Math.round(v+(b[k]-v)*f)).join(',')+')';}
const tempColor=v=>spectral((v-1)/7.5), nitColor=v=>spectral((v-1.4)/2);

// ---------- helpers ----------
const FONT='"Liberation Sans",Arial,sans-serif', TXT='#262626', FRAME='#5a5a5a';
const toPts=a=>a.map(p=>p?{x:p[0],y:p[1]}:{x:NaN,y:NaN});
function arrowPts(list){const out=[];list.forEach(([x0,y0,x1,y1])=>{const u=x1-x0,v=y1-y0,a=.33,b=.25;
  out.push({x:x0,y:y0},{x:x1,y:y1},{x:x1-a*(u+b*v),y:y1-a*(v-b*u)},{x:x1,y:y1},{x:x1-a*(u-b*v),y:y1-a*(v+b*u)},{x:NaN,y:NaN});});return out;}
const lineDs=(data,color,w=1.3,ten=0)=>({type:'line',data,borderColor:color,borderWidth:w,pointRadius:0,fill:false,tension:ten,spanGaps:false});
function frameTicks(sides){return {id:'ft',afterDatasetsDraw(ch){const c=ch.ctx,A=ch.chartArea,X=ch.scales.x,Y=ch.scales.y,L=8.5;
  c.save();c.strokeStyle=FRAME;c.lineWidth=1.4;c.beginPath();
  if(sides.x)X.ticks.forEach(t=>{const p=Math.round(X.getPixelForValue(t.value));c.moveTo(p,A.bottom);c.lineTo(p,A.bottom-L);c.moveTo(p,A.top);c.lineTo(p,A.top+L);});
  Y.ticks.forEach(t=>{const p=Math.round(Y.getPixelForValue(t.value));
    if(sides.yl){c.moveTo(A.left,p);c.lineTo(A.left+L,p);}
    c.moveTo(A.right,p);c.lineTo(A.right-L,p);});
  c.stroke();c.lineWidth=1.6;c.strokeRect(A.left,A.top,A.right-A.left,A.bottom-A.top);c.restore();}};}
function tickOpts(font,labels,pad){return {font:{family:FONT,size:font},color:TXT,padding:pad,maxRotation:0,minRotation:0,autoSkip:false,
  callback:(v,i)=>labels?labels[i]:String(v)};}
const setTicks=vals=>s=>{s.ticks=vals.map(v=>({value:v}));};

// ---------- left map ----------
(function(){
 const dsBottomFirst=[];
 const trackDs=(arr,r)=>({type:'line',data:arr.map(p=>({x:p[0],y:p[1]})),pointRadius:r,pointBorderWidth:0,
   pointBackgroundColor:arr.map(p=>tempColor(p[2])),borderWidth:r*2,borderCapStyle:'round',borderJoinStyle:'round',
   segment:{borderColor:ctx=>tempColor(arr[ctx.p0DataIndex][2])},borderColor:'#3288bd',tension:0,fill:false});
 dsBottomFirst.push(trackDs(trackSouth,8.8),trackDs(trackStart,11.5),trackDs(trackEast,8.8));
 dsBottomFirst.push({type:'scatter',data:trackBlobs.map(p=>({x:p[0],y:p[1]})),pointRadius:8.8,pointBorderWidth:0,
   pointBackgroundColor:trackBlobs.map(p=>tempColor(p[2]))});
 dsBottomFirst.push(lineDs(toPts(auvPath),'#000',1.4),lineDs(toPts(auvLoop),'#000',1.2));
 dsBottomFirst.push(lineDs(arrowPts(arrowsSadcp),'#00ffff'),lineDs(arrowPts(arrowsDeep),'#000'),lineDs(arrowPts(arrowsShallow),'#0000ff'),lineDs(arrowPts(arrowsMid),'#ff0000'));
 dsBottomFirst.push(lineDs(arrowPts(refArrow),'#000'));
 scaleBars.forEach(b=>dsBottomFirst.push(lineDs(toPts(b),'#222',1.4)));
 const notes={id:'notes',afterDatasetsDraw(ch){const c=ch.ctx;c.save();
  c.fillStyle='#000';c.font='30.5px '+FONT;c.textBaseline='middle';c.textAlign='left';
  c.fillText('6.67 km',270,467);c.fillText('0.2 m/s',305,680);c.fillText('7.43 km',571,832);
  c.fillStyle='#fff';c.fillRect(635.5,58.5,293,141.5);c.strokeStyle=FRAME;c.lineWidth=1.5;c.strokeRect(635.5,58.5,293,141.5);
  const cols=['#0000ff','#ff0000','#000','#00ffff'];
  legendLabels.forEach((t,i)=>{const y=78.7+i*33.4;c.strokeStyle=cols[i];c.lineWidth=1.3;c.beginPath();c.moveTo(645,y);c.lineTo(715,y);c.moveTo(694,y-6);c.lineTo(715,y);c.lineTo(694,y+6);c.stroke();
    c.fillStyle='#000';c.font='28px '+FONT;c.fillText(t,722,y+1);});
  c.restore();}};
 new Chart(document.getElementById('c1'),{type:'scatter',data:{datasets:dsBottomFirst.reverse()},plugins:[frameTicks({x:1,yl:1}),notes],
  options:{responsive:false,animation:false,events:[],layout:{padding:{left:224-133,top:34,right:2130-951,bottom:1000-848-89}},
   plugins:{legend:{display:false},tooltip:{enabled:false}},
   scales:{x:{type:'linear',min:4.1,max:4.55,afterBuildTicks:setTicks(lonTicks),afterFit(s){s.height=89;},
     grid:{color:'rgba(0,0,0,.1)',lineWidth:1.5,drawTicks:false},border:{display:false},ticks:tickOpts(30,lonLabels,14),
     title:{display:true,text:'Lon',font:{family:FONT,size:32},color:TXT,padding:0}},
    y:{type:'linear',min:79.01,max:79.1061,afterBuildTicks:setTicks(latTicks),afterFit(s){s.width=133;},
     grid:{color:'rgba(0,0,0,.1)',lineWidth:1.5,drawTicks:false},border:{display:false},ticks:tickOpts(30,latLabels,12),
     title:{display:true,text:'Lat',font:{family:FONT,size:32},color:TXT,padding:0}}}}});
})();

// ---------- T-S diagram ----------
(function(){
 const ds=[];
 ds.push(lineDs(toPts(castLines),'#111',1.1));
 sampleGroups.forEach(g=>ds.push({type:'scatter',data:g.map(p=>({x:p[0],y:p[1]})),pointRadius:5.6,pointBorderWidth:0,pointBackgroundColor:g.map(p=>nitColor(p[2]))}));
 [sigma255,sigma26,sigma265,sigma27,sigma275,sigma28,sigma285].forEach(a=>ds.push(lineDs(toPts(a),'#a8124e',1.3,.25)));
 const labels={id:'slab',afterDatasetsDraw(ch){const c=ch.ctx,X=ch.scales.x,Y=ch.scales.y;c.save();c.fillStyle='#000';c.font='22px '+FONT;c.textAlign='center';c.textBaseline='middle';
  sigmaLabels.forEach(([s,t,txt,ang])=>{c.save();c.translate(X.getPixelForValue(s),Y.getPixelForValue(t));c.rotate(ang*Math.PI/180);c.fillText(txt,0,0);c.restore();});
  c.translate(1123,458);c.rotate(-Math.PI/2);c.fillStyle=TXT;c.font='26.5px '+FONT;c.fillText('Temperature [C°]',0,0);c.restore();}};
 new Chart(document.getElementById('c2'),{type:'scatter',data:{datasets:ds.reverse()},plugins:[frameTicks({x:1,yl:1}),labels],
  options:{responsive:false,animation:false,events:[],layout:{padding:{left:1181-77,top:42,right:2130-1940,bottom:1000-852-80}},
   plugins:{legend:{display:false},tooltip:{enabled:false}},
   scales:{x:{type:'linear',min:32.5,max:35.5,afterBuildTicks:setTicks(salTicks),afterFit(s){s.height=80;},
     grid:{display:false,drawTicks:false},border:{display:false},ticks:tickOpts(27,salLabels,12),
     title:{display:true,text:'Salinity',font:{family:FONT,size:29},color:TXT,padding:0}},
    y:{type:'linear',min:-2,max:8,afterBuildTicks:setTicks(thetaTicks),afterFit(s){s.width=77;},
     grid:{display:false,drawTicks:false},border:{display:false},ticks:tickOpts(27,null,11)}}}});
})();

// ---------- colour bars ----------
function colorBar(id,rect,lo,hi,ticks,labels,colorFn,title,tx,ty,tsize,fsize){
 const N=64,datasets=[];
 for(let i=0;i<N;i++){const a=lo+(hi-lo)*i/N,b=lo+(hi-lo)*(i+1)/N;
  datasets.push({data:[[a,b+(hi-lo)/N*.15]],backgroundColor:colorFn(lo+(hi-lo)*(i+.5)/N),borderWidth:0,borderSkipped:false,barPercentage:1,categoryPercentage:1,grouped:false,order:N-i});}
 const ttl={id:'ttl',afterDraw(ch){const c=ch.ctx;c.save();c.translate(tx,ty);c.rotate(-Math.PI/2);c.font=tsize+'px '+FONT;c.fillStyle=TXT;c.textAlign='center';c.textBaseline='middle';c.fillText(title,0,0);c.restore();}};
 new Chart(document.getElementById(id),{type:'bar',data:{labels:[''],datasets},plugins:[frameTicks({}),ttl],
  options:{responsive:false,animation:false,events:[],layout:{padding:{left:rect[0],top:rect[1],right:2130-rect[2]-60,bottom:1000-rect[3]}},
   plugins:{legend:{display:false},tooltip:{enabled:false}},
   scales:{x:{display:false,stacked:false},y:{position:'right',type:'linear',min:lo,max:hi,afterBuildTicks:setTicks(ticks),afterFit(s){s.width=60;},
     grid:{display:false,drawTicks:false},border:{display:false},ticks:tickOpts(fsize,labels,10)}}}});
}
colorBar('c3',[975,34,1023,849],1,8.5,tempBarTicks,null,tempColor,'Temperature [C°]',1077,460,25.5,25);
colorBar('c4',[1985,42,2025,852],1.4,3.4,nitrateTicks,nitrateLabels,nitColor,'Nitrate [?]',2094,462,23,24);
</script>
</body></html>
